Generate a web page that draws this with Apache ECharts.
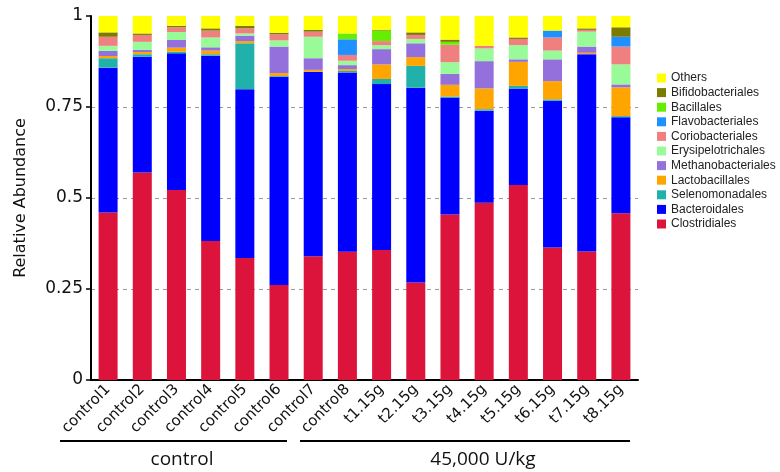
<!DOCTYPE html>
<html>
<head>
<meta charset="utf-8">
<script src="https://cdn.jsdelivr.net/npm/echarts@6/dist/echarts.min.js"></script>
<style>
  html, body { margin: 0; padding: 0; background: #fff; }
  #main { width: 780px; height: 472px; }
</style>
</head>
<body>
<div id="main"></div>
<script>
// samples
var samples = ['control1', 'control2', 'control3', 'control4', 'control5', 'control6', 'control7', 'control8',
  't1.15g', 't2.15g', 't3.15g', 't4.15g', 't5.15g', 't6.15g', 't7.15g', 't8.15g'];

// relative abundance per order (bottom to top)
var clostridiales      = [0.46, 0.57, 0.522, 0.382, 0.335, 0.261, 0.34, 0.352, 0.357, 0.268, 0.455, 0.487, 0.536, 0.364, 0.353, 0.458];
var bacteroidales      = [0.398, 0.318, 0.3755, 0.509, 0.464, 0.572, 0.507, 0.493, 0.456, 0.535, 0.321, 0.253, 0.265, 0.403, 0.542, 0.264];
var selenomonadales    = [0.026, 0.007, 0.0045, 0.004, 0.126, 0.002, 0, 0.004, 0.014, 0.06, 0.003, 0.004, 0.007, 0.004, 0, 0.003];
var lactobacillales    = [0.006, 0.006, 0.011, 0.01, 0.006, 0.008, 0.005, 0.005, 0.04, 0.024, 0.032, 0.057, 0.066, 0.05, 0.004, 0.079];
var methanobacteriales = [0.014, 0.006, 0.021, 0.009, 0.015, 0.073, 0.032, 0.011, 0.042, 0.038, 0.03, 0.075, 0.007, 0.06, 0.017, 0.008];
var erysipelotrichales = [0.014, 0.022, 0.022, 0.027, 0.006, 0.017, 0.059, 0.012, 0.011, 0.012, 0.032, 0.035, 0.039, 0.024, 0.041, 0.055];
var coriobacteriales   = [0.025, 0.019, 0.013, 0.019, 0.014, 0.017, 0.014, 0.016, 0.011, 0.011, 0.048, 0.007, 0.017, 0.036, 0.005, 0.049];
var flavobacteriales   = [0, 0, 0, 0, 0, 0, 0, 0.043, 0, 0, 0, 0, 0, 0.019, 0, 0.027];
var bacillales         = [0, 0, 0, 0, 0, 0, 0, 0.016, 0.029, 0, 0.008, 0, 0, 0, 0, 0];
var bifidobacteriales  = [0.012, 0.004, 0.004, 0.006, 0.007, 0.004, 0.005, 0, 0.002, 0.007, 0.006, 0, 0.004, 0, 0.004, 0.026];
var others             = [0.045, 0.048, 0.027, 0.034, 0.027, 0.048, 0.038, 0.048, 0.038, 0.045, 0.066, 0.082, 0.059, 0.04, 0.034, 0.031];

var orderNames = ['Clostridiales', 'Bacteroidales', 'Selenomonadales', 'Lactobacillales', 'Methanobacteriales',
  'Erysipelotrichales', 'Coriobacteriales', 'Flavobacteriales', 'Bacillales', 'Bifidobacteriales', 'Others'];
var orderData = [clostridiales, bacteroidales, selenomonadales, lactobacillales, methanobacteriales,
  erysipelotrichales, coriobacteriales, flavobacteriales, bacillales, bifidobacteriales, others];
var orderColors = ['#DC143C', '#0000FF', '#20B2AA', '#FFA500', '#9370DB',
  '#98FB98', '#F08080', '#1E90FF', '#66EE00', '#7B7B00', '#FFFF00'];

var yTicks = [0, 0.25, 0.5, 0.75, 1];

var series = [];
for (var i = 0; i < orderNames.length; i++) {
  series.push({
    name: orderNames[i],
    type: 'bar',
    stack: 'all',
    barWidth: 19,
    itemStyle: { color: orderColors[i] },
    data: orderData[i]
  });
}

var chart = echarts.init(document.getElementById('main'));
var option = {
  animation: false,
  textStyle: { fontFamily: 'DejaVu Sans' },
  grid: { left: 91, right: 142, top: 16, bottom: 92 },
  legend: {
    orient: 'vertical',
    left: 652,
    top: 67,
    itemWidth: 9,
    itemHeight: 9,
    itemGap: 2.6,
    icon: 'rect',
    textStyle: { fontSize: 12, lineHeight: 12, color: '#222', fontFamily: 'Liberation Sans' },
    data: orderNames.slice().reverse()
  },
  xAxis: {
    type: 'category',
    data: samples,
    axisLine: { lineStyle: { color: '#000', width: 2 } },
    axisTick: { lineStyle: { color: '#000', width: 1.5 }, length: 5 },
    axisLabel: { rotate: 45, fontSize: 15, color: '#111', margin: 7, interval: 0 }
  },
  yAxis: {
    type: 'value',
    min: 0,
    max: 1,
    interval: 0.25,
    name: 'Relative Abundance',
    nameLocation: 'middle',
    nameGap: 62,
    nameTextStyle: { fontSize: 16, color: '#111' },
    axisLine: { show: true, lineStyle: { color: '#000', width: 2 } },
    axisTick: { show: true, length: 5, lineStyle: { color: '#000', width: 1.5 } },
    axisLabel: {
      fontSize: 17,
      color: '#111',
      formatter: function (v) { return yTicks.indexOf(v) >= 0 ? String(v) : ''; }
    },
    splitLine: {
      show: true,
      lineStyle: { type: [4, 4], color: ['transparent', '#999', '#999', '#999', 'transparent'] }
    }
  },
  graphic: [
    { type: 'line', shape: { x1: 60, y1: 441, x2: 287, y2: 441 }, style: { stroke: '#000', lineWidth: 2 } },
    { type: 'line', shape: { x1: 300, y1: 441, x2: 630, y2: 441 }, style: { stroke: '#000', lineWidth: 2 } },
    { type: 'text', x: 182, y: 460, style: { text: 'control', fontSize: 19, fill: '#111', align: 'center', verticalAlign: 'middle', fontFamily: 'Open Sans' } },
    { type: 'text', x: 483, y: 460, style: { text: '45,000 U/kg', fontSize: 19, fill: '#111', align: 'center', verticalAlign: 'middle', fontFamily: 'Open Sans' } }
  ],
  series: series
};
chart.setOption(option);
</script>
</body>
</html>
